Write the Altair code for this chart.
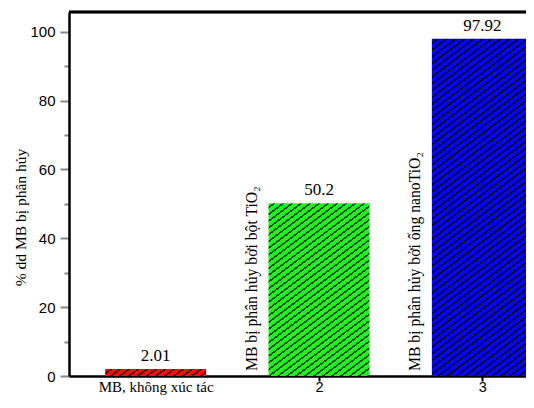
import altair as alt
import pandas as pd

categories = [1, 2, 3]
values = [2.01, 50.2, 97.92]
value_labels = ["2.01", "50.2", "97.92"]
side_labels = ["", "MB bị phân hủy bởi bột TiO₂", "MB bị phân hủy bởi ống nanoTiO₂"]
bar_colors = ["#ff0a0a", "#22f022", "#0505f5"]
stripe_colors = ["#5a0000", "#0b500b", "#000045"]
first_label = "MB, không xúc tác"
y_title = "% dd MB bị phân hủy"
y_ticks = list(range(0, 101, 10))
x_ticks = [1, 2, 3]

df = pd.DataFrame({"cat": categories, "val": values, "lbl": value_labels,
                   "side": side_labels})

W, H = 457, 364
Y_MAX = 105.7
STEP = 167.0
X_MIN, X_MAX = 0.5, 0.5 + W / STEP
BAR_PX = 101


def hatch(color, dark, w, h, slope=0.75, hs=9.0, lw=1.7):
    dc = slope * hs
    C = slope * w + h
    lwc = lw * (1 + slope ** 2) ** 0.5
    stops = [{"offset": 0, "color": color}]
    c = dc / 2
    while c + lwc < C:
        a, b = c / C, (c + lwc) / C
        stops += [{"offset": a, "color": color}, {"offset": a, "color": dark},
                  {"offset": b, "color": dark}, {"offset": b, "color": color}]
        c += dc
    stops.append({"offset": 1, "color": color})
    s = C / (slope ** 2 * w ** 2 + h ** 2)
    return alt.LinearGradient(gradient="linear", stops=stops, x1=0, y1=0,
                              x2=slope * w * s, y2=h * s)


xscale = alt.Scale(domain=[X_MIN, X_MAX], nice=False, zero=False)
yscale = alt.Scale(domain=[0, Y_MAX], nice=False)

xaxis = alt.Axis(
    values=x_ticks, title=None, grid=False, labelFlush=False,
    labelExpr=f"datum.value === 1 ? '{first_label}' : datum.label",
    labelFont={"condition": {"test": "datum.value === 1", "value": "Liberation Serif"},
               "value": "Liberation Sans"},
    labelFontSize={"condition": {"test": "datum.value === 1", "value": 15}, "value": 14.5},
    tickColor={"condition": {"test": "datum.value === 1", "value": "transparent"},
               "value": "black"},
    tickSize=5, tickWidth=2, labelPadding=10, labelBaseline="alphabetic",
    domainWidth=2.5,
)
yaxis = alt.Axis(
    values=y_ticks, title=y_title, grid=False,
    labelExpr="datum.value % 20 === 0 ? datum.label : ''",
    tickSize={"condition": {"test": "datum.value % 20 !== 0", "value": 5}, "value": 9},
    tickWidth=2, labelPadding=5, labelFont="Liberation Sans", labelFontSize=15,
    titleFont="Liberation Serif", titleFontSize=15.5, titleFontWeight="normal",
    titleAngle=270, titleX=-49, titleY=205, titleAlign="center",
    titleBaseline="middle", domainWidth=2.5,
)

base = alt.Chart(df)
X = alt.X("cat:Q", scale=xscale, axis=xaxis)

layers = []
for i, c in enumerate(categories):
    hpx = values[i] * H / Y_MAX
    layers.append(
        base.mark_bar(size=BAR_PX, clip=True,
                      color=hatch(bar_colors[i], stripe_colors[i], BAR_PX, hpx))
        .encode(x=X, y=alt.Y("val:Q", scale=yscale, axis=yaxis))
        .transform_filter(alt.datum.cat == c)
    )

top_rule = alt.Chart(df).mark_rule(color="black", strokeWidth=2.5).encode(
    y=alt.Y(datum=Y_MAX, scale=yscale, axis=yaxis))

value_text = base.mark_text(font="Liberation Serif", fontSize=17, baseline="bottom",
                            dy=-4, color="black").encode(
    x=X, y=alt.Y("val:Q", scale=yscale, axis=yaxis), text="lbl:N")

side_text = base.transform_calculate(z="0").mark_text(
    font="Liberation Serif", fontSize=15.7, angle=270, align="left",
    baseline="middle", dx=5, dy=-67, color="black").encode(
    x=X, y=alt.Y("z:Q", scale=yscale, axis=yaxis), text="side:N")

chart = alt.layer(*layers, value_text, side_text, top_rule).properties(
    width=W, height=H,
    padding={"left": 61, "top": 4, "right": 0, "bottom": 19},
    autosize=alt.AutoSizeParams(type="none"),
).configure_view(stroke=None).configure_axis(
    domainColor="black", labelColor="black", titleColor="black")

chart.save("out.html", embed_options={"renderer": "svg", "actions": False})
